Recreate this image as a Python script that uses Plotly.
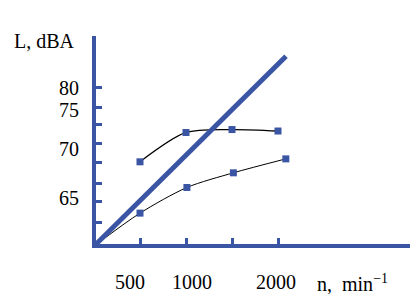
import plotly.graph_objects as go

# ---- data ----
speed_upper = [500, 1000, 1500, 2000]
level_upper = [69.8, 73.8, 74.2, 74.0]

speed_lower = [0, 500, 1010, 1515, 2085]
level_lower = [58.3, 62.8, 66.3, 68.3, 70.2]

speed_diag = [0, 2087]
level_diag = [58.3, 84.2]

x_tick_vals = [500, 1000, 1500, 2000]
x_label_vals = [391, 1065, 1978]
x_label_text = ["500", "1000", "2000"]

y_tick_vals = [80.0, 77.27, 74.95, 72.36, 69.77, 66.91, 64.32, 61.59]
y_label_vals = [79.93, 76.8, 71.48, 64.93]
y_label_text = ["80", "75", "70", "65"]

BLUE = "#3B55A5"
FONT = "'Liberation Serif', 'Times New Roman', serif"

fig = go.Figure()

# thin black curves
fig.add_trace(go.Scatter(x=speed_lower, y=level_lower, mode="lines",
                         line=dict(color="black", width=1, shape="spline", smoothing=0.8),
                         hoverinfo="skip", showlegend=False))
fig.add_trace(go.Scatter(x=speed_upper, y=level_upper, mode="lines",
                         line=dict(color="black", width=1.3, shape="spline", smoothing=0.8),
                         hoverinfo="skip", showlegend=False))
# thick diagonal
fig.add_trace(go.Scatter(x=speed_diag, y=level_diag, mode="lines",
                         line=dict(color=BLUE, width=5),
                         hoverinfo="skip", showlegend=False))
# markers
fig.add_trace(go.Scatter(x=speed_upper, y=level_upper, mode="markers",
                         marker=dict(symbol="square", size=7, color=BLUE),
                         showlegend=False))
fig.add_trace(go.Scatter(x=speed_lower[1:], y=level_lower[1:], mode="markers",
                         marker=dict(symbol="square", size=7, color=BLUE),
                         showlegend=False))
# dummy trace to activate label axes
fig.add_trace(go.Scatter(x=[None], y=[None], xaxis="x2", yaxis="y2", showlegend=False))

PL, PR, PT, PB = 96, 8, 36, 50
PW = 418 - PL - PR
PH = 294 - PT - PB
XR = [21.7, 21.7 + PW / 0.092]
YR = [58.59, 86.96]

fig.update_layout(
    template="none",
    width=418, height=294,
    margin=dict(l=PL, r=PR, t=PT, b=PB, autoexpand=False),
    paper_bgcolor="white", plot_bgcolor="white",
    font=dict(family=FONT, size=20, color="black"),
    xaxis=dict(range=XR, showline=True, linecolor=BLUE, linewidth=4,
               automargin=False, showgrid=False, zeroline=False,
               tickmode="array", tickvals=x_tick_vals,
               ticks="inside", ticklen=6, tickwidth=3, tickcolor=BLUE,
               showticklabels=False),
    yaxis=dict(range=YR, showline=True, linecolor=BLUE, linewidth=4,
               automargin=False, showgrid=False, zeroline=False,
               tickmode="array", tickvals=y_tick_vals,
               ticks="inside", ticklen=6, tickwidth=3, tickcolor=BLUE,
               showticklabels=False),
    xaxis2=dict(range=XR, overlaying="x", side="bottom", showline=False,
                automargin=False, showgrid=False, zeroline=False,
                tickmode="array", tickvals=x_label_vals,
                ticktext=x_label_text, ticks="outside", ticklen=20, tickwidth=0,
                tickcolor="rgba(0,0,0,0)", tickfont=dict(family=FONT, size=20, color="black")),
    yaxis2=dict(range=YR, overlaying="y", side="left", showline=False,
                automargin=False, showgrid=False, zeroline=False,
                tickmode="array", tickvals=y_label_vals,
                ticktext=y_label_text, ticks="outside", ticklen=12, tickwidth=0,
                tickcolor="rgba(0,0,0,0)", tickfont=dict(family=FONT, size=20, color="black")),
    annotations=[
        dict(text="L, dBA", xref="paper", yref="paper",
             x=(77 - PL) / PW, y=(PH - (41 - PT)) / PH,
             xanchor="right", yanchor="middle", showarrow=False,
             font=dict(family=FONT, size=20, color="black")),
        dict(text="n,  min<sup>−1</sup>", xref="paper", yref="paper",
             x=(315 - PL) / PW, xanchor="left",
             y=-(283 - (PT + PH)) / PH, yanchor="middle", showarrow=False,
             font=dict(family=FONT, size=20, color="black")),
    ],
)

fig.write_html("out.html",
               config={"displayModeBar": False},
               post_script="document.body.style.margin='0px';"
                           "document.body.style.overflow='hidden';")
